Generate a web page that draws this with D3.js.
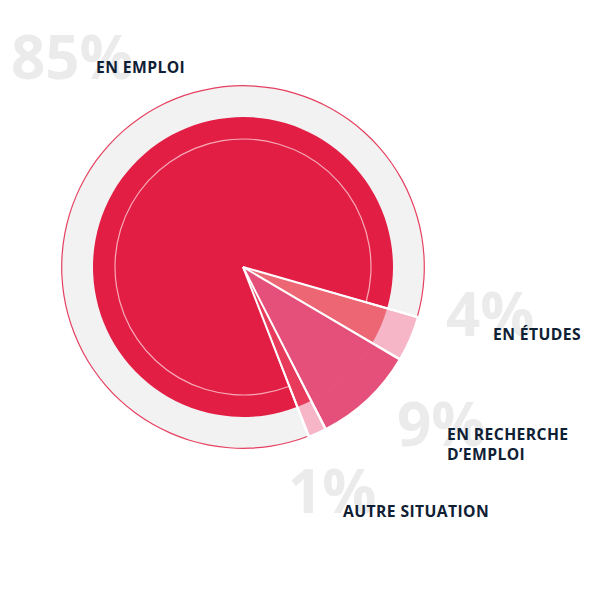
<!DOCTYPE html>
<html>
<head>
<meta charset="utf-8">
<script src="https://cdn.jsdelivr.net/npm/d3@7"></script>
<style>
    body { margin: 0; background: #fff; }
    .pct { font-family: "Open Sans", sans-serif; font-weight: 700; fill: #ebebeb; }
    .lbl { font-family: "Open Sans", sans-serif; font-weight: 700; fill: #0f2034; }
</style>
</head>
<body>
<div id="chart"></div>
<script>
// data
const categories = ["EN EMPLOI", "EN ÉTUDES", "EN RECHERCHE D’EMPLOI", "AUTRE SITUATION"];
const values = [85, 4, 9, 1];
const percentLabels = ["85%", "4%", "9%", "1%"];

// look
const innerColors = ["#e31e45", "#ec6673", "#e5507a", "#e83a5a"];
const outerColors = ["#f2f2f2", "#f7b5c8", "#e5507a", "#f7b5c8"];

// where the text sits (layout only)
const labelLayout = [
    {px: 11, py: 79, lx: 96, ly: 73, lines: ["EN EMPLOI"]},
    {px: 446, py: 336, lx: 493, ly: 340, lines: ["EN ÉTUDES"]},
    {px: 397, py: 446, lx: 447, ly: 440, lines: ["EN RECHERCHE", "D’EMPLOI"]},
    {px: 288, py: 513, lx: 343, ly: 517, lines: ["AUTRE SITUATION"]}
];

const width = 600, height = 600;
const cx = 243, cy = 267;
const rInner = 150, rOuter = 181, rLine = 128;
const minShare = 1.6; // tiny slices get drawn a bit wider so they stay visible

const svg = d3.select("#chart").append("svg")
    .attr("width", width)
    .attr("height", height);

// big grey percentages behind everything
svg.selectAll(".pct")
    .data(percentLabels)
    .join("text")
    .attr("class", "pct")
    .attr("x", (d, i) => labelLayout[i].px)
    .attr("y", (d, i) => labelLayout[i].py)
    .attr("font-size", 60)
    .text(d => d);

let shown = values.map(v => Math.max(v, minShare));

// pie: first slice ends where "en études" begins (about 106deg)
let total = d3.sum(shown);
let a0 = (106 - shown[0] / total * 360) * Math.PI / 180;

let pie = d3.pie()
    .sort(null)
    .value(d => Math.max(d, minShare))
    .startAngle(a0)
    .endAngle(a0 + 2 * Math.PI);

let arcs = pie(values);

let g = svg.append("g")
    .attr("transform", `translate(${cx},${cy})`);

let innerArc = d3.arc().innerRadius(0).outerRadius(rInner);
let outerArc = d3.arc().innerRadius(rInner - 0.5).outerRadius(rOuter);

g.selectAll(".outer")
    .data(arcs)
    .join("path")
    .attr("class", "outer")
    .attr("d", outerArc)
    .attr("fill", (d, i) => outerColors[i]);

g.selectAll(".inner")
    .data(arcs)
    .join("path")
    .attr("class", "inner")
    .attr("d", innerArc)
    .attr("fill", (d, i) => innerColors[i]);

// thin lines on the main slice only
let main = arcs[0];
g.append("path")
    .attr("d", d3.arc().innerRadius(rLine - 0.6).outerRadius(rLine + 0.6)(main))
    .attr("fill", "#f7a9b6");

g.append("path")
    .attr("d", d3.arc().innerRadius(rOuter - 0.3).outerRadius(rOuter + 0.9)(main))
    .attr("fill", "#e5405f");

// white gaps between slices: a thin wedge plus a constant-width line
let gap = 0.007;
let gapArc = d3.arc().innerRadius(0).outerRadius(rOuter + 4);
g.selectAll(".gap")
    .data(arcs)
    .join("path")
    .attr("class", "gap")
    .attr("d", d => gapArc({startAngle: d.startAngle - gap, endAngle: d.startAngle + gap}))
    .attr("fill", "#fff");

g.selectAll(".gapline")
    .data(arcs)
    .join("line")
    .attr("class", "gapline")
    .attr("x1", 0)
    .attr("y1", 0)
    .attr("x2", d => d3.pointRadial(d.startAngle, rOuter + 4)[0])
    .attr("y2", d => d3.pointRadial(d.startAngle, rOuter + 4)[1])
    .attr("stroke", "#fff")
    .attr("stroke-width", 2);

// category labels
let lbl = svg.selectAll(".lbl")
    .data(labelLayout)
    .join("text")
    .attr("class", "lbl")
    .attr("font-size", 15.7)
    .attr("letter-spacing", 0.4);

lbl.selectAll("tspan")
    .data(d => d.lines.map((t, k) => ({t, k, x: d.lx, y: d.ly})))
    .join("tspan")
    .attr("x", d => d.x)
    .attr("y", d => d.y + d.k * 20)
    .text(d => d.t);
</script>
</body>
</html>
